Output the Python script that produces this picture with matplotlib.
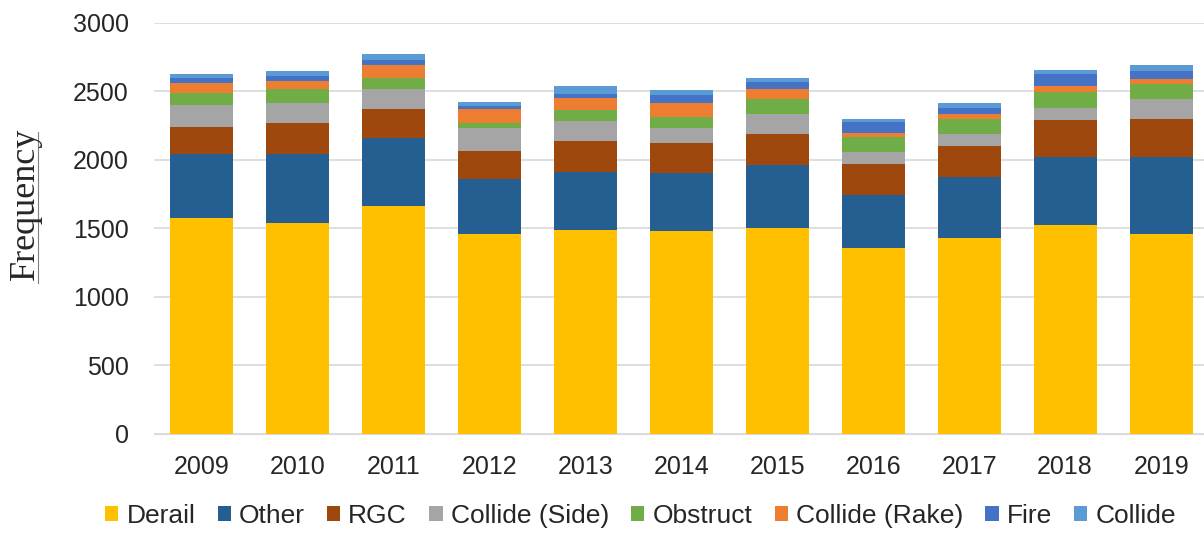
import matplotlib.pyplot as plt
from matplotlib.lines import Line2D
import numpy as np

# years and causes
years = ['2009', '2010', '2011', '2012', '2013', '2014', '2015', '2016', '2017', '2018', '2019']
causes = ['Derail', 'Other', 'RGC', 'Collide (Side)', 'Obstruct', 'Collide (Rake)', 'Fire', 'Collide']
colors = ['#FFC000', '#255E91', '#9E480E', '#A5A5A5', '#70AD47', '#ED7D31', '#4472C4', '#5B9BD5']

# values
derail = [1573, 1541, 1666, 1463, 1487, 1480, 1507, 1354, 1432, 1524, 1463]
other = [468, 500, 493, 398, 427, 422, 456, 390, 446, 496, 561]
rgc = [203, 227, 212, 207, 225, 220, 227, 227, 224, 273, 278]
collide_side = [158, 147, 146, 164, 146, 114, 147, 90, 86, 85, 142]
obstruct = [86, 105, 81, 41, 78, 76, 109, 110, 112, 115, 112]
collide_rake = [73, 60, 97, 98, 88, 103, 71, 29, 37, 48, 34]
fire = [34, 34, 36, 26, 33, 60, 52, 80, 46, 88, 63]
collide = [32, 32, 45, 25, 55, 37, 29, 20, 32, 30, 37]

series = [derail, other, rgc, collide_side, obstruct, collide_rake, fire, collide]

plt.rcParams['font.family'] = ['Liberation Sans', 'DejaVu Sans']

fig = plt.figure(figsize=(12.04, 5.36), dpi=100)
ax = fig.add_axes([0.1275, 0.1903, 0.8767, 0.7668])

x = np.arange(len(years))
bottom = np.zeros(len(years))
for name, vals, c in zip(causes, series, colors):
    ax.bar(x, vals, 0.656, bottom=bottom, color=c, label=name, zorder=3)
    bottom += np.array(vals)

ax.set_xlim(-0.5, len(years) - 0.5)
ax.set_ylim(0, 3000)
ax.set_yticks(range(0, 3001, 500))
ax.set_xticks(x)
ax.set_xticklabels(years)
ax.grid(axis='y', color='#D9D9D9', linewidth=1.2, zorder=0)
for s in ['top', 'right', 'left']:
    ax.spines[s].set_visible(False)
ax.spines['bottom'].set_color('#D9D9D9')
ax.tick_params(axis='both', length=0, labelsize=18, colors='#262626')
ax.tick_params(axis='y', pad=18)
ax.tick_params(axis='x', pad=15)

# y label in serif with a thin underline as in the original
fig.text(0.021, 0.619, 'Frequency', rotation=90, ha='center', va='center',
         fontsize=26, family=['Liberation Serif', 'DejaVu Serif'], color='#262626')
fig.add_artist(Line2D([0.0316, 0.0316], [0.472, 0.754], transform=fig.transFigure,
                      color='#7F7F7F', linewidth=0.8))

fig.legend(loc='center', bbox_to_anchor=(0.532, 0.037), ncol=8, frameon=False,
           fontsize=19, handlelength=0.5, handleheight=0.5, handletextpad=0.3,
           columnspacing=0.85, labelcolor='#262626')

fig.savefig('out.png', dpi=100)
